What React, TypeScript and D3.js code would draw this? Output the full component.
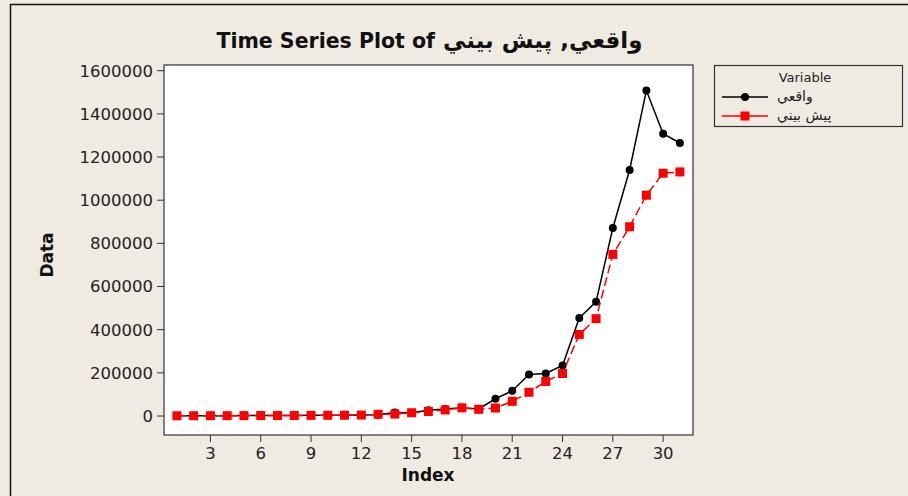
import React from "react";
import * as d3 from "d3";

const indices = d3.range(1, 32);
const actual = [
  1000, 1200, 1400, 1600, 1800, 2000, 2300, 2600, 3000, 3400, 3800, 4500,
  6000, 16000, 15000, 27000, 32000, 38000, 33000, 80000, 117000, 192000,
  197000, 234000, 454000, 529000, 871000, 1140000, 1508000, 1308000, 1265000,
];
const forecast = [
  900, 1100, 1300, 1500, 1700, 1900, 2200, 2500, 2900, 3300, 3700, 4300,
  8000, 9000, 15000, 21000, 28000, 38000, 31000, 37000, 68000, 110000,
  160000, 197000, 378000, 451000, 749000, 877000, 1023000, 1125000, 1131000,
];
const xTicks = [3, 6, 9, 12, 15, 18, 21, 24, 27, 30];
const yTicks = [0, 200000, 400000, 600000, 800000, 1000000, 1200000, 1400000, 1600000];
const seriesNames = ["واقعي", "پيش بيني"];
const titlePrefix = "Time Series Plot of";
const titleVars = "واقعي, پيش بيني";

const W = 908;
const H = 496;
const plot = { left: 164, right: 693, top: 65, bottom: 435 };
const BG = "#efebe2";
const FONT = "'DejaVu Sans', Verdana, sans-serif";

export default function App() {
  const x = d3.scaleLinear().domain([1, 31]).range([176.9, 679.9]);
  const y = d3.scaleLinear().domain([0, 1600000]).range([416, 70.7]);
  const line = (vals: number[]) =>
    d3
      .line<number>()
      .x((_, i) => x(indices[i]))
      .y((v) => y(v))(vals) as string;

  return (
    <svg
      width={W}
      height={H}
      style={{ position: "absolute", left: 0, top: 0, display: "block" }}
    >
      <rect x={0} y={0} width={W} height={H} fill={BG} />
      {/* outer frame */}
      <line x1={10} y1={4.5} x2={W} y2={4.5} stroke="#111" strokeWidth={1.5} />
      <line x1={10.5} y1={4} x2={10.5} y2={H} stroke="#111" strokeWidth={1.5} />

      {/* title */}
      <text
        x={435}
        y={48}
        textAnchor="end"
        fontFamily={FONT}
        fontWeight="bold"
        fontSize={20.5}
        fill="#111"
      >
        {titlePrefix}
      </text>
      <text
        x={443}
        y={48}
        textAnchor="start"
        fontFamily={FONT}
        fontWeight="bold"
        fontSize={23}
        fill="#111"
      >
        {titleVars}
      </text>

      {/* plot area */}
      <rect
        x={plot.left}
        y={plot.top}
        width={plot.right - plot.left}
        height={plot.bottom - plot.top}
        fill="#ffffff"
        stroke="#333"
        strokeWidth={1.2}
      />

      {/* y ticks */}
      {yTicks.map((t) => (
        <g key={"y" + t}>
          <line x1={plot.left - 7} x2={plot.left} y1={y(t)} y2={y(t)} stroke="#333" strokeWidth={1} />
          <text
            x={plot.left - 11}
            y={y(t)}
            dy="0.36em"
            textAnchor="end"
            fontFamily={FONT}
            fontSize={16.5}
            fill="#222"
          >
            {t}
          </text>
        </g>
      ))}

      {/* x ticks */}
      {xTicks.map((t) => (
        <g key={"x" + t}>
          <line x1={x(t)} x2={x(t)} y1={plot.bottom} y2={plot.bottom + 7} stroke="#333" strokeWidth={1} />
          <text
            x={x(t)}
            y={plot.bottom + 24}
            textAnchor="middle"
            fontFamily={FONT}
            fontSize={16.5}
            fill="#222"
          >
            {t}
          </text>
        </g>
      ))}

      {/* axis labels */}
      <text
        x={428}
        y={481}
        textAnchor="middle"
        fontFamily={FONT}
        fontWeight="bold"
        fontSize={17}
        fill="#111"
      >
        Index
      </text>
      <text
        transform={`translate(53,255) rotate(-90)`}
        textAnchor="middle"
        fontFamily={FONT}
        fontWeight="bold"
        fontSize={17}
        fill="#111"
      >
        Data
      </text>

      {/* series: actual */}
      <path d={line(actual)} fill="none" stroke="#000" strokeWidth={1.5} />
      {actual.map((v, i) => (
        <circle key={"a" + i} cx={x(indices[i])} cy={y(v)} r={4} fill="#000" />
      ))}

      {/* series: forecast */}
      <path
        d={line(forecast)}
        fill="none"
        stroke="#ff0000"
        strokeWidth={1.5}
        strokeDasharray="9 4"
      />
      {forecast.map((v, i) => (
        <rect
          key={"f" + i}
          x={x(indices[i]) - 4.5}
          y={y(v) - 4.5}
          width={9}
          height={9}
          fill="#ff0000"
        />
      ))}

      {/* legend */}
      <rect x={714.5} y={65.5} width={188} height={61} fill={BG} stroke="#333" strokeWidth={1.2} />
      <text x={805} y={82} textAnchor="middle" fontFamily={FONT} fontSize={13} fill="#222">
        Variable
      </text>
      <line x1={722} x2={768} y1={97} y2={97} stroke="#000" strokeWidth={1.5} />
      <circle cx={745} cy={97} r={4} fill="#000" />
      <text x={777} y={101} fontFamily={FONT} fontSize={14} fill="#222">
        {seriesNames[0]}
      </text>
      <line x1={722} x2={768} y1={116} y2={116} stroke="#ff0000" strokeWidth={1.5} />
      <rect x={740.5} y={111.5} width={9} height={9} fill="#ff0000" />
      <text x={777} y={120} fontFamily={FONT} fontSize={14} fill="#222">
        {seriesNames[1]}
      </text>
    </svg>
  );
}
